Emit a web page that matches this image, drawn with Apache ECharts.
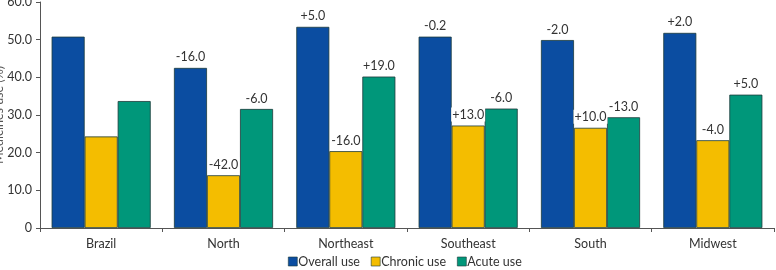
<!DOCTYPE html>
<html><head><meta charset="utf-8">
<script src="https://cdn.jsdelivr.net/npm/echarts@6/dist/echarts.min.js"></script>
<style>html,body{margin:0;padding:0;background:#fff}#c{width:776px;height:270px}</style>
</head><body><div id="c"></div>
<script>
const categories = ['Brazil','North','Northeast','Southeast','South','Midwest'];
const overall = [50.8, 42.5, 53.4, 50.8, 49.9, 51.8];
const chronic = [24.3, 14.0, 20.4, 27.2, 26.6, 23.3];
const acute = [33.7, 31.6, 40.2, 31.7, 29.4, 35.4];
const overallLbl = ['', '-16.0', '+5.0', '-0.2', '-2.0', '+2.0'];
const chronicLbl = ['', '-42.0', '-16.0', '+13.0', '+10.0', '-4.0'];
const acuteLbl = ['', '-6.0', '+19.0', '-6.0', '-13.0', '+5.0'];
const yTicks = ['0','10.0','20.0','30.0','40.0','50.0','60.0'];
const font = 'Lato, "Open Sans", sans-serif';
const fs = 12.5;
function mk(name, data, lbls, color){
  return {
    name, type:'bar', data, barGap:'0%', barCategoryGap:'19%',
    itemStyle:{color, borderColor:'#1c3b3b', borderWidth:0.8},
    label:{show:true, position:'top', distance:4, fontFamily:font, fontSize:fs, color:'#333',
      backgroundColor:'#fff', padding:[1,1,0,1],
      formatter:p=>lbls[p.dataIndex]}
  };
}
const chart = echarts.init(document.getElementById('c'));
chart.setOption({
  animation:false,
  grid:{left:40,right:2,top:2,bottom:42,containLabel:false,outerBoundsMode:'none'},
  legend:{top:250,left:283,itemWidth:9,itemHeight:9,itemGap:11,icon:'rect',
    textStyle:{fontFamily:font,fontSize:fs,color:'#333',padding:[0,0,0,-4]},
    itemStyle:{borderColor:'#1c3b3b',borderWidth:0.6}},
  xAxis:{type:'category',data:categories,
    axisLine:{lineStyle:{color:'#555'}},
    axisTick:{show:true,length:4,lineStyle:{color:'#555'}},
    axisLabel:{fontFamily:font,fontSize:fs,color:'#333',margin:9}},
  yAxis:{type:'value',min:0,max:60,interval:10,
    name:'Medicines use (%)',nameLocation:'middle',nameGap:35,nameMoveOverlap:false,
    nameTextStyle:{fontFamily:font,fontSize:fs,color:'#555'},
    axisLine:{show:true,lineStyle:{color:'#555'}},
    axisTick:{show:true,length:4,lineStyle:{color:'#555'}},
    splitLine:{show:false},
    axisLabel:{fontFamily:font,fontSize:fs,color:'#333',margin:8,
      formatter:(v)=>yTicks[Math.round(v/10)]}},
  series:[
    mk('Overall use', overall, overallLbl, '#0b4da1'),
    mk('Chronic use', chronic, chronicLbl, '#f4bd00'),
    mk('Acute use', acute, acuteLbl, '#00977a')
  ]
});
</script></body></html>
